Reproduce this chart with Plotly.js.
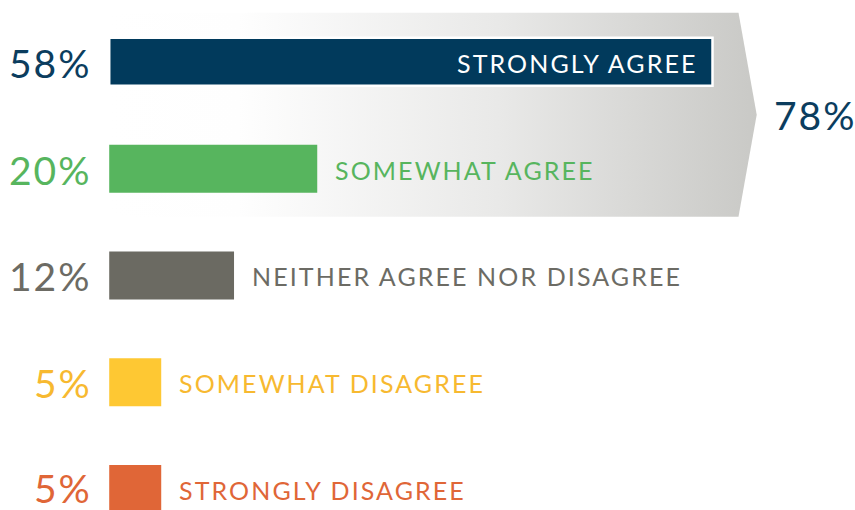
<!DOCTYPE html>
<html>
<head>
<meta charset="utf-8">
<script src="https://cdn.plot.ly/plotly-3.0.1.min.js"></script>
<style>
html,body{margin:0;padding:0;background:#fff;}
#chart{width:855px;height:510px;}
text.annotation-text[style*="font-size: 25px"]{letter-spacing:2.1px;}
text.annotation-text[style*="font-size: 39px"]{letter-spacing:2px;}
</style>
</head>
<body>
<div id="chart"></div>
<script>
// ---- data ----
const categories = ['STRONGLY AGREE', 'SOMEWHAT AGREE', 'NEITHER AGREE NOR DISAGREE', 'SOMEWHAT DISAGREE', 'STRONGLY DISAGREE'];
const values = [58, 20, 12, 5, 5];
const pctLabels = ['58%', '20%', '12%', '5%', '5%'];
const groupedIdx = [0, 1];           // categories bracketed together
const groupedLabel = '78%';

// ---- styles ----
const barColors  = ['#013a5c', '#57b55e', '#6b6a62', '#fec833', '#e06637'];
const textColors = ['#0b3d5e', '#57b55e', '#6c6b64', '#f7b930', '#e06637'];
const FONT = 'Lato, "Open Sans", sans-serif';

const idx = categories.map((_, i) => i);
const xRange = [-10.5, 71.7];
const yRange = [4.196, -0.579];

// bracket (gradient arrow) around the grouped categories
const gTop = Math.min(...groupedIdx) - 0.46;
const gBot = Math.max(...groupedIdx) + 0.45;
const gMid = (gTop + gBot) / 2;
const gRight = Math.max(...groupedIdx.map(i => values[i])) + 2.5;
const gTip = gRight + 1.75;

const bracket = {
  type: 'scatter', mode: 'lines', xaxis: 'x', yaxis: 'y',
  x: [0, gRight, gTip, gRight, 0, 0],
  y: [gTop, gTop, gMid, gBot, gBot, gTop],
  fill: 'toself', line: {width: 0},
  fillgradient: {type: 'horizontal', colorscale: [[0, '#ffffff'], [0.2, '#fefefe'], [0.6, '#e9e9e8'], [1, '#c9c9c6']]},
  hoverinfo: 'skip', showlegend: false
};

const bars = {
  type: 'bar', orientation: 'h', xaxis: 'x2', yaxis: 'y2',
  x: values, y: idx, width: 0.449,
  marker: {color: barColors, line: {color: '#ffffff', width: values.map((_, i) => i === 0 ? 2.5 : 0)}},
  hoverinfo: 'skip', showlegend: false
};

const annotations = [];
idx.forEach(i => {
  annotations.push({
    xref: 'x2', yref: 'y2', x: 0, y: i, xanchor: 'right', yanchor: 'middle', xshift: -15,
    yshift: i === idx.length - 1 ? 1 : -1,
    text: pctLabels[i], showarrow: false, font: {family: FONT, size: 39, color: textColors[i]}
  });
  const inside = i === 0;
  annotations.push({
    xref: 'x2', yref: 'y2', x: values[i], y: i,
    xanchor: inside ? 'right' : 'left', yanchor: 'middle', xshift: inside ? -13 : 16, yshift: -1,
    text: categories[i], showarrow: false,
    font: {family: FONT, size: 25, color: inside ? '#ffffff' : textColors[i]}
  });
});
annotations.push({
  xref: 'x', yref: 'y', x: gTip, y: gMid, xanchor: 'left', yanchor: 'middle', xshift: 15, yshift: 0,
  text: groupedLabel, showarrow: false, font: {family: FONT, size: 39, color: textColors[0]}
});

const axisBase = {visible: false, showgrid: false, zeroline: false, fixedrange: true};
const layout = {
  width: 855, height: 510,
  margin: {l: 0, r: 0, t: 0, b: 0, pad: 0},
  paper_bgcolor: '#ffffff', plot_bgcolor: 'rgba(0,0,0,0)',
  xaxis:  Object.assign({}, axisBase, {range: xRange}),
  yaxis:  Object.assign({}, axisBase, {range: yRange}),
  xaxis2: Object.assign({}, axisBase, {range: xRange, overlaying: 'x'}),
  yaxis2: Object.assign({}, axisBase, {range: yRange, overlaying: 'y'}),
  annotations: annotations,
  showlegend: false
};

Plotly.newPlot('chart', [bracket, bars], layout, {displayModeBar: false, staticPlot: true});
</script>
</body>
</html>
